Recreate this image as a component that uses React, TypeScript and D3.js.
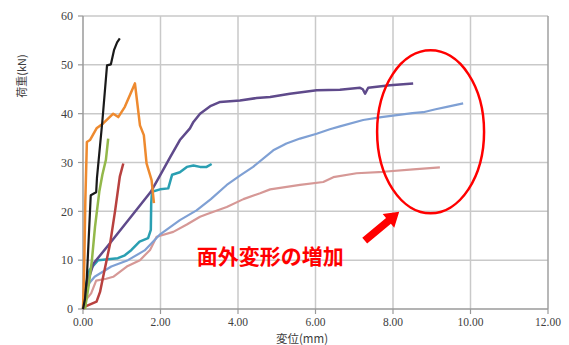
import { useEffect, useRef } from 'react';
import * as d3 from 'd3';

type Pt = [number, number];

// displacement (mm), load (kN)
const blackSeries: Pt[] = [[0, 0], [0.05, 2], [0.1, 6.5], [0.2, 23.3], [0.34, 23.9], [0.36, 26.8], [0.5, 38.5], [0.62, 49.9], [0.72, 50.1], [0.8, 53.0], [0.88, 54.6], [0.95, 55.4]];
const orangeSeries: Pt[] = [[0, 0], [0.03, 8], [0.06, 22], [0.1, 34.2], [0.18, 34.6], [0.35, 37.0], [0.52, 38.0], [0.78, 40.0], [0.91, 39.3], [1.08, 41.4], [1.34, 46.2], [1.47, 37.6], [1.57, 35.6], [1.64, 29.8], [1.77, 26.4], [1.83, 21.7]];
const greenSeries: Pt[] = [[0.05, 0], [0.15, 5], [0.23, 10], [0.31, 16.8], [0.42, 24], [0.5, 27.5], [0.59, 30.5], [0.65, 34.9]];
const redSeries: Pt[] = [[0, 0], [0.05, 0.5], [0.35, 1.5], [0.44, 3.5], [0.52, 6.6], [0.7, 13.4], [0.83, 20.2], [0.95, 27.1], [1.04, 29.8]];
const purpleSeries: Pt[] = [[0, 0], [0.1, 5], [0.27, 9.3], [0.7, 13.5], [1.3, 19.5], [1.75, 24], [2.0, 27.5], [2.25, 31.1], [2.5, 34.6], [2.76, 37.0], [2.85, 38.3], [3.02, 40.0], [3.3, 41.6], [3.54, 42.4], [4.05, 42.7], [4.48, 43.2], [4.83, 43.4], [5.34, 44.1], [6.03, 44.8], [6.63, 44.9], [7.15, 45.3], [7.22, 45.0], [7.28, 44.1], [7.36, 45.3], [7.92, 45.8], [8.52, 46.2]];
const tealSeries: Pt[] = [[0, 0], [0.08, 5], [0.17, 8], [0.39, 10], [0.9, 10.4], [1.08, 11], [1.25, 12.1], [1.46, 13.8], [1.68, 14.5], [1.75, 16.2], [1.76, 21.6], [1.78, 24.0], [1.99, 24.5], [2.2, 24.7], [2.3, 27.5], [2.5, 28.0], [2.68, 29.1], [2.85, 29.4], [3.02, 29.1], [3.19, 29.1], [3.32, 29.7]];
const blueSeries: Pt[] = [[0, 0], [0.09, 4.6], [0.3, 6.6], [0.73, 8.7], [1.16, 10], [1.59, 12], [1.99, 15.3], [2.5, 18.2], [2.93, 20.2], [3.3, 22.5], [3.71, 25.4], [4.05, 27.3], [4.39, 29.1], [4.91, 32.5], [5.25, 33.9], [5.6, 34.9], [6.03, 35.9], [6.37, 36.8], [6.63, 37.4], [7.23, 38.7], [7.7, 39.3], [8.1, 39.7], [8.5, 40.1], [8.78, 40.3], [9.1, 40.9], [9.39, 41.4], [9.81, 42.1]];
const pinkSeries: Pt[] = [[0, 0], [0.04, 1.5], [0.21, 3.2], [0.34, 5.8], [0.6, 6.2], [0.78, 6.6], [1.13, 8.7], [1.47, 10], [1.73, 12.1], [1.9, 14.8], [2.33, 15.8], [2.68, 17.3], [3.02, 18.9], [3.19, 19.4], [3.71, 20.9], [4.14, 22.5], [4.57, 23.7], [4.83, 24.5], [5.6, 25.4], [6.2, 26], [6.46, 27.0], [7.06, 27.8], [7.75, 28.1], [8.52, 28.6], [9.21, 29.0]];

const xTicks = [0, 2, 4, 6, 8, 10, 12];
const yTicks = [0, 10, 20, 30, 40, 50, 60];

const seriesList = [
  { data: pinkSeries, color: '#d69896', width: 2.2 },
  { data: blueSeries, color: '#7fa0d4', width: 2.2 },
  { data: tealSeries, color: '#2a9fb2', width: 2.5 },
  { data: purpleSeries, color: '#5f4a8b', width: 2.5 },
  { data: redSeries, color: '#b8413f', width: 2.5 },
  { data: greenSeries, color: '#93b84a', width: 2.5 },
  { data: orangeSeries, color: '#ee8a2f', width: 2.5 },
  { data: blackSeries, color: '#1a1a1a', width: 2.2 },
];

export default function App() {
  const svgRef = useRef<SVGSVGElement>(null);

  useEffect(() => {
    if (!svgRef.current) return;
    const svg = d3.select(svgRef.current);
    svg.selectAll('*').remove();

    const left = 83, right = 548, top = 16, bottom = 309;
    const x = d3.scaleLinear().domain([0, 12]).range([left, right]);
    const y = d3.scaleLinear().domain([0, 60]).range([bottom, top]);
    const serif = '"Liberation Serif", "DejaVu Serif", serif';

    // grid
    svg.append('g').selectAll('line').data(xTicks.slice(1, -1)).join('line')
      .attr('x1', d => x(d)).attr('x2', d => x(d)).attr('y1', top).attr('y2', bottom)
      .attr('stroke', '#c9c9c9').attr('stroke-width', 1.5);
    svg.append('g').selectAll('line').data(yTicks.slice(1)).join('line')
      .attr('x1', left).attr('x2', right).attr('y1', d => y(d)).attr('y2', d => y(d))
      .attr('stroke', '#c9c9c9').attr('stroke-width', 1.5);

    // frame
    svg.append('line').attr('x1', right).attr('x2', right).attr('y1', top).attr('y2', bottom)
      .attr('stroke', '#a0a0a0').attr('stroke-width', 1.5);
    svg.append('line').attr('x1', left).attr('x2', left).attr('y1', top).attr('y2', bottom)
      .attr('stroke', '#9a9a9a').attr('stroke-width', 1.5);
    svg.append('line').attr('x1', left).attr('x2', right).attr('y1', bottom).attr('y2', bottom)
      .attr('stroke', '#9a9a9a').attr('stroke-width', 1.5);

    // ticks
    svg.append('g').selectAll('line').data(yTicks).join('line')
      .attr('x1', left - 5).attr('x2', left).attr('y1', d => y(d)).attr('y2', d => y(d))
      .attr('stroke', '#9a9a9a').attr('stroke-width', 1.2);
    svg.append('g').selectAll('line').data(xTicks).join('line')
      .attr('x1', d => x(d)).attr('x2', d => x(d)).attr('y1', bottom).attr('y2', bottom + 5)
      .attr('stroke', '#9a9a9a').attr('stroke-width', 1.2);

    svg.append('g').selectAll('text').data(yTicks).join('text')
      .attr('x', left - 10).attr('y', d => y(d)).attr('dy', '0.35em')
      .attr('text-anchor', 'end').attr('font-family', serif).attr('font-size', 12)
      .attr('fill', '#404040').text(d => String(d));
    svg.append('g').selectAll('text').data(xTicks).join('text')
      .attr('x', d => x(d)).attr('y', bottom + 17)
      .attr('text-anchor', 'middle').attr('font-family', serif).attr('font-size', 11.5)
      .attr('fill', '#404040').text(d => d.toFixed(2));

    // axis titles
    svg.append('text')
      .attr('transform', 'translate(26,76) rotate(-90)')
      .attr('text-anchor', 'middle').attr('font-family', '"Noto Sans CJK JP", serif')
      .attr('font-size', 11).attr('fill', '#404040').text('荷重(kN)');
    svg.append('text')
      .attr('x', 302).attr('y', 343)
      .attr('text-anchor', 'middle').attr('font-family', '"Noto Sans CJK JP", serif')
      .attr('font-size', 11.5).attr('fill', '#404040').text('変位(mm)');

    // curves
    const line = d3.line<Pt>().x(d => x(d[0])).y(d => y(d[1]));
    seriesList.forEach(s => {
      svg.append('path').attr('d', line(s.data) || '')
        .attr('fill', 'none').attr('stroke', s.color).attr('stroke-width', s.width)
        .attr('stroke-linejoin', 'round');
    });

    // annotation: ellipse
    svg.append('ellipse')
      .attr('cx', x(8.97)).attr('cy', y(36.3))
      .attr('rx', x(1.38) - x(0)).attr('ry', y(0) - y(16.7))
      .attr('fill', 'none').attr('stroke', '#ff0000').attr('stroke-width', 2.5);

    // annotation: arrow
    const x0 = x(7.27), y0 = y(14.0), x1 = x(8.16), y1 = y(19.9);
    const ang = Math.atan2(y1 - y0, x1 - x0);
    const len = Math.hypot(x1 - x0, y1 - y0);
    const headLen = 14, headW = 9, shaftW = 3.8;
    const pts: Pt[] = [
      [0, -shaftW], [len - headLen, -shaftW], [len - headLen, -headW], [len, 0],
      [len - headLen, headW], [len - headLen, shaftW], [0, shaftW],
    ].map(([u, v]) => [x0 + u * Math.cos(ang) - v * Math.sin(ang), y0 + u * Math.sin(ang) + v * Math.cos(ang)] as Pt);
    svg.append('polygon').attr('points', pts.map(p => p.join(',')).join(' ')).attr('fill', '#ff0000');

    svg.append('text')
      .attr('x', x(4.83)).attr('y', y(10.8)).attr('dy', '0.35em')
      .attr('text-anchor', 'middle').attr('font-family', '"Noto Sans CJK JP", sans-serif')
      .attr('font-weight', 'bold').attr('font-size', 21).attr('fill', '#ff0000')
      .text('面外変形の増加');
  }, []);

  return (
    <div style={{ position: 'absolute', left: 0, top: 0 }}>
      <svg ref={svgRef} width={569} height={345} style={{ display: 'block', background: '#fff' }} />
    </div>
  );
}
